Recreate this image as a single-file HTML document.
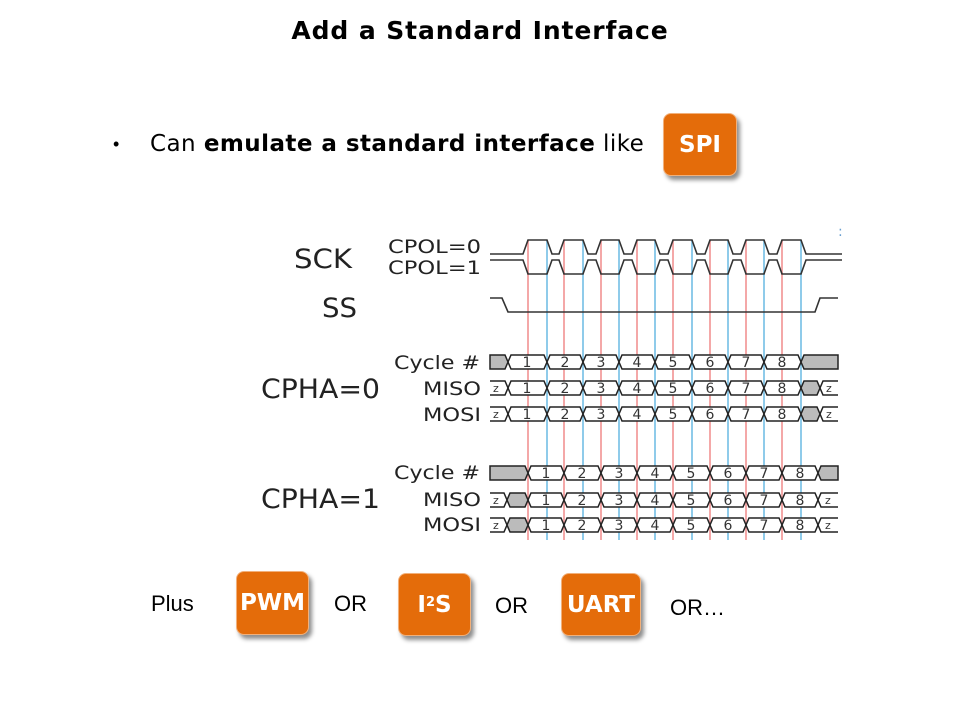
<!DOCTYPE html>
<html><head><meta charset="utf-8"><style>
html,body{margin:0;padding:0;background:#fff;}
body{width:960px;height:720px;position:relative;overflow:hidden;font-family:"Liberation Sans",sans-serif;}
.t{position:absolute;white-space:nowrap;color:#000;}
.btn{position:absolute;background:#E46C0A;border:1px solid #F2B07A;border-radius:8px;color:#fff;font-weight:bold;font-size:23px;display:flex;align-items:center;justify-content:center;box-shadow:3px 4px 4px rgba(0,0,0,0.45);font-family:"DejaVu Sans","Liberation Sans",sans-serif;}
</style></head><body>
<div class="t" style="left:0;width:960px;text-align:center;top:16px;font-size:25px;letter-spacing:0.9px;font-weight:bold;font-family:'DejaVu Sans','Liberation Sans',sans-serif;">Add a Standard Interface</div>
<div class="t" style="left:113px;top:134px;font-size:18px;">•</div>
<div class="t" style="left:150px;top:131px;font-size:23px;letter-spacing:0.45px;font-family:'DejaVu Sans','Liberation Sans',sans-serif;">Can <b>emulate a standard interface</b> like</div>
<div class="btn" style="left:663px;top:113px;width:72px;height:61px;">SPI</div>

<svg style="position:absolute;left:0;top:0" width="960" height="720" font-family="DejaVu Sans, Liberation Sans, sans-serif">
<defs>
<g id="g0" stroke="#222" stroke-width="1.5" fill="#fff">
<polygon points="508,7 511,0 544,0 547,7 544,14 511,14"/>
<polygon points="547,7 550,0 580,0 583,7 580,14 550,14"/>
<polygon points="583,7 586,0 616,0 619,7 616,14 586,14"/>
<polygon points="619,7 622,0 652,0 655,7 652,14 622,14"/>
<polygon points="655,7 658,0 689,0 692,7 689,14 658,14"/>
<polygon points="692,7 695,0 725,0 728,7 725,14 695,14"/>
<polygon points="728,7 731,0 761,0 764,7 761,14 731,14"/>
<polygon points="764,7 767,0 798,0 801,7 798,14 767,14"/>
<g stroke="none" fill="#333" font-size="14" text-anchor="middle">
<text x="527" y="12">1</text><text x="565" y="12">2</text><text x="601" y="12">3</text><text x="637" y="12">4</text><text x="673" y="12">5</text><text x="710" y="12">6</text><text x="746" y="12">7</text><text x="782" y="12">8</text>
</g></g>
<g id="g1" stroke="#222" stroke-width="1.5" fill="#fff">
<polygon points="528,7 531,0 561,0 564,7 561,14 531,14"/>
<polygon points="564,7 567,0 598,0 601,7 598,14 567,14"/>
<polygon points="601,7 604,0 634,0 637,7 634,14 604,14"/>
<polygon points="637,7 640,0 670,0 673,7 670,14 640,14"/>
<polygon points="673,7 676,0 707,0 710,7 707,14 676,14"/>
<polygon points="710,7 713,0 743,0 746,7 743,14 713,14"/>
<polygon points="746,7 749,0 779,0 782,7 779,14 749,14"/>
<polygon points="782,7 785,0 815,0 818,7 815,14 785,14"/>
<g stroke="none" fill="#333" font-size="14" text-anchor="middle">
<text x="546" y="12">1</text><text x="582" y="12">2</text><text x="619" y="12">3</text><text x="655" y="12">4</text><text x="691" y="12">5</text><text x="728" y="12">6</text><text x="764" y="12">7</text><text x="800" y="12">8</text>
</g></g>
</defs>

<g stroke="#F4A8A8" stroke-width="2">
<line x1="528" y1="240" x2="528" y2="540"/><line x1="564" y1="240" x2="564" y2="540"/><line x1="601" y1="240" x2="601" y2="540"/><line x1="637" y1="240" x2="637" y2="540"/><line x1="673" y1="240" x2="673" y2="540"/><line x1="710" y1="240" x2="710" y2="540"/><line x1="746" y1="240" x2="746" y2="540"/><line x1="782" y1="240" x2="782" y2="540"/>
</g>
<g stroke="#8FCBEA" stroke-width="2">
<line x1="547" y1="240" x2="547" y2="540"/><line x1="583" y1="240" x2="583" y2="540"/><line x1="619" y1="240" x2="619" y2="540"/><line x1="655" y1="240" x2="655" y2="540"/><line x1="692" y1="240" x2="692" y2="540"/><line x1="728" y1="240" x2="728" y2="540"/><line x1="764" y1="240" x2="764" y2="540"/><line x1="801" y1="240" x2="801" y2="540"/>
</g>

<g fill="#222">
<text x="294" y="268" font-size="27" textLength="58" lengthAdjust="spacingAndGlyphs">SCK</text>
<text x="322" y="317" font-size="27" textLength="35" lengthAdjust="spacingAndGlyphs">SS</text>
<text x="388" y="253" font-size="19" textLength="93" lengthAdjust="spacingAndGlyphs">CPOL=0</text>
<text x="388" y="274" font-size="19" textLength="93" lengthAdjust="spacingAndGlyphs">CPOL=1</text>
<text x="261" y="398" font-size="27" textLength="119" lengthAdjust="spacingAndGlyphs">CPHA=0</text>
<text x="261" y="508" font-size="27" textLength="119" lengthAdjust="spacingAndGlyphs">CPHA=1</text>
<g font-size="19">
<text x="394" y="369" textLength="86" lengthAdjust="spacingAndGlyphs">Cycle #</text>
<text x="423" y="395" textLength="58" lengthAdjust="spacingAndGlyphs">MISO</text>
<text x="423" y="421" textLength="58" lengthAdjust="spacingAndGlyphs">MOSI</text>
<text x="394" y="479" textLength="86" lengthAdjust="spacingAndGlyphs">Cycle #</text>
<text x="423" y="506" textLength="58" lengthAdjust="spacingAndGlyphs">MISO</text>
<text x="423" y="531" textLength="58" lengthAdjust="spacingAndGlyphs">MOSI</text>
</g></g>

<g fill="none" stroke="#333" stroke-width="1.6">
<path d="M490,254 L523,254 L528,240 L547,240 L552,254 L559,254 L564,240 L583,240 L588,254 L596,254 L601,240 L619,240 L624,254 L632,254 L637,240 L655,240 L660,254 L668,254 L673,240 L692,240 L697,254 L705,254 L710,240 L728,240 L733,254 L741,254 L746,240 L764,240 L769,254 L777,254 L782,240 L801,240 L806,254 L842,254"/>
<path d="M490,260 L523,260 L528,274 L547,274 L552,260 L559,260 L564,274 L583,274 L588,260 L596,260 L601,274 L619,274 L624,260 L632,260 L637,274 L655,274 L660,260 L668,260 L673,274 L692,274 L697,260 L705,260 L710,274 L728,274 L733,260 L741,260 L746,274 L764,274 L769,260 L777,260 L782,274 L801,274 L806,260 L842,260"/>
<path d="M490,298 L502,298 L508,312 L815,312 L820,298 L838,298"/>
</g>

<use href="#g0" transform="translate(0,355)"/>
<use href="#g0" transform="translate(0,381)"/>
<use href="#g0" transform="translate(0,407)"/>
<g stroke="#222" stroke-width="1.5" fill="#bbb">
<polygon points="490,355 505,355 508,362 505,369 490,369"/>
<polygon points="838,355 804,355 801,362 804,369 838,369"/>
<polygon points="801,388 804,381 817,381 820,388 817,395 804,395"/>
<polygon points="801,414 804,407 817,407 820,414 817,421 804,421"/>
<path d="M490,381 L505,381 L508,388 L505,395 L490,395 M838,381 L823,381 L820,388 L823,395 L838,395 M490,407 L505,407 L508,414 L505,421 L490,421 M838,407 L823,407 L820,414 L823,421 L838,421" fill="none"/>
</g>
<use href="#g1" transform="translate(0,466)"/>
<use href="#g1" transform="translate(0,493)"/>
<use href="#g1" transform="translate(0,518)"/>
<g stroke="#222" stroke-width="1.5" fill="#bbb">
<polygon points="490,466 525,466 528,473 525,480 490,480"/>
<polygon points="838,466 821,466 818,473 821,480 838,480"/>
<polygon points="507,500 510,493 525,493 528,500 525,507 510,507"/>
<polygon points="507,525 510,518 525,518 528,525 525,532 510,532"/>
<path d="M490,493 L504,493 L507,500 L504,507 L490,507 M838,493 L821,493 L818,500 L821,507 L838,507 M490,518 L504,518 L507,525 L504,532 L490,532 M838,518 L821,518 L818,525 L821,532 L838,532" fill="none"/>
</g>
<g font-size="11" fill="#333">
<text x="493" y="392">z</text><text x="826" y="392">z</text><text x="493" y="418">z</text><text x="826" y="418">z</text>
<text x="493" y="504">z</text><text x="825" y="504">z</text><text x="493" y="529">z</text><text x="825" y="529">z</text>
</g>
<text x="838" y="236" font-size="14" fill="#6a9fd0">:</text>
</svg>

<div class="t" style="left:151px;top:591px;font-size:22px;">Plus</div>
<div class="btn" style="left:236px;top:571px;width:71px;height:62px;">PWM</div>
<div class="t" style="left:334px;top:591px;font-size:22px;">OR</div>
<div class="btn" style="left:398px;top:573px;width:71px;height:61px;">I<sup style="font-size:13px;position:relative;top:-2px;">2</sup>S</div>
<div class="t" style="left:495px;top:593px;font-size:22px;">OR</div>
<div class="btn" style="left:561px;top:573px;width:78px;height:61px;">UART</div>
<div class="t" style="left:670px;top:595px;font-size:22px;">OR…</div>
</body></html>
